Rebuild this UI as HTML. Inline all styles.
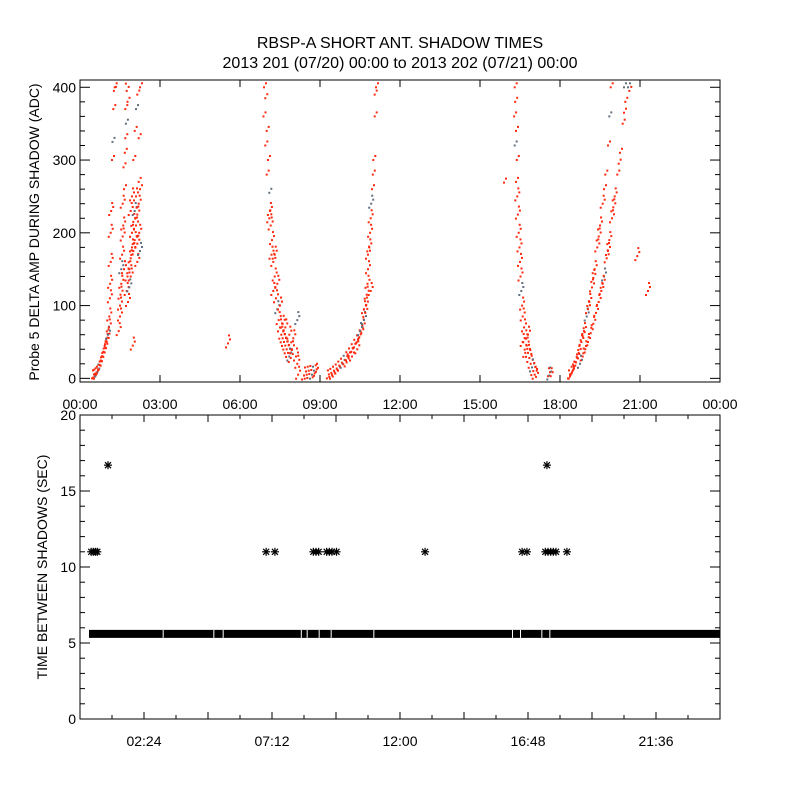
<!DOCTYPE html>
<html><head><meta charset="utf-8"><style>
html,body{margin:0;padding:0;background:#fff;}
svg{display:block;font-family:"Liberation Sans",sans-serif;}
</style></head><body>
<svg id="c" width="800" height="800" viewBox="0 0 800 800">
<rect width="800" height="800" fill="#fff"/>
<text x="400" y="48" text-anchor="middle" font-size="16">RBSP-A SHORT ANT. SHADOW TIMES</text>
<text x="400" y="68" text-anchor="middle" font-size="16">2013 201 (07/20) 00:00 to 2013 202 (07/21) 00:00</text>
<text transform="translate(39,232) rotate(-90)" text-anchor="middle" font-size="14">Probe 5 DELTA AMP DURING SHADOW (ADC)</text>
<text transform="translate(47,567) rotate(-90)" text-anchor="middle" font-size="14">TIME BETWEEN SHADOWS (SEC)</text>
<g id="topPanel"></g>
<g id="botPanel"></g>
</svg>
<script>
// ---- top panel data (hour, ADC) ----
const ampHours = [0.45,0.5,0.55,0.6,0.65,0.7,0.75,0.8,0.85,0.9,0.95,1.0,1.03,1.05,1.08,1.1,1.12,1.13,1.15,1.15,1.17,1.2,1.22,1.25,1.27,1.3,
1.45,1.5,1.5,1.52,1.55,1.55,1.58,1.6,1.62,1.6,1.65,1.63,1.68,1.7,1.72,1.7,1.75,1.72,1.78,1.65,1.75,1.78,
1.8,1.85,1.85,1.9,1.9,1.95,1.95,2.0,2.0,2.05,2.05,2.1,2.1,2.15,2.15,2.2,2.2,2.0,2.05,2.1,2.15,2.25,2.22,1.9,1.95,2.25,2.2,2.15,2.25,1.98,
6.9,6.95,6.88,7.0,6.95,7.05,7.0,7.1,7.12,7.15,7.2,7.18,7.25,7.3,7.25,7.35,7.4,7.45,7.5,7.55,7.6,7.65,7.7,7.75,7.8,7.85,7.9,7.95,8.0,7.85,7.7,8.1,8.15,8.18,8.15,7.4,7.3,7.1,7.5,7.6,
8.4,8.5,8.6,8.7,8.8,8.85,
9.26,9.35,9.45,9.55,9.65,9.75,9.85,9.95,10.05,10.15,10.25,10.35,10.45,10.55,10.6,10.65,10.7,10.72,10.75,10.78,10.8,10.85,10.88,10.9,10.92,10.95,10.98,11.0,11.05,11.1,10.4,10.2,10.0,10.5,10.65,10.8,10.9,11.05,
16.3,16.32,16.28,16.35,16.3,16.38,16.35,16.4,16.42,16.45,16.48,16.5,16.52,16.55,16.58,16.6,16.65,16.7,16.75,16.8,16.85,16.9,16.95,17.0,17.05,17.1,15.9,16.6,16.7,16.8,
17.55,17.6,17.65,
18.3,18.4,18.5,18.6,18.7,18.8,18.9,19.0,19.1,19.2,19.3,19.4,19.5,19.6,19.7,19.8,19.85,19.9,18.45,18.65,18.85,19.05,19.25,19.45,19.65,
18.75,18.85,18.95,19.05,19.15,19.25,19.35,19.45,19.55,19.65,19.75,19.85,19.95,20.05,20.15,20.25,20.35,20.45,20.55,20.6,19.6,19.8,20.0,20.2,20.4,
21.3,20.9,20.4,5.55];
const ampValues = [0,1,3,5,8,12,18,24,30,36,42,50,56,60,70,85,110,130,160,200,230,300,325,370,395,400,
65,85,100,115,130,150,170,195,210,240,260,290,310,330,350,370,395,405,380,150,120,140,
105,125,150,140,165,180,200,175,215,190,230,210,250,225,185,240,270,300,340,370,390,260,200,230,250,400,330,160,175,45,
400,385,360,340,320,300,280,255,230,210,190,170,160,140,120,110,95,80,70,60,55,50,45,40,35,30,28,40,55,60,70,30,20,5,80,130,170,220,100,75,
4,5,6,5,7,9,
0,2,5,8,12,16,20,25,30,36,42,48,55,62,70,80,90,100,115,130,150,180,200,220,240,260,280,300,360,400,40,30,22,65,95,170,120,390,
400,380,360,340,320,300,270,250,225,200,180,160,140,120,100,85,70,55,45,35,28,20,15,10,5,2,269,50,35,60,
3,4,3,
0,5,12,22,35,50,65,85,105,125,150,180,210,240,280,320,360,400,8,28,58,95,138,195,260,
20,30,40,50,62,75,90,105,120,140,165,190,220,250,280,310,350,380,400,395,130,175,235,295,365,
120,168,400,48];
const topXTicks = ["00:00","03:00","06:00","09:00","12:00","15:00","18:00","21:00","00:00"];
const topYTicks = [0,100,200,300,400];
// ---- bottom panel data ----
const bandStart = [0.45];
const bandEnd = [24];
const bandValue = [5.6];
const gapHours = [3.1,5.0,5.35,8.28,8.5,8.95,9.4,11.0,16.2,16.5,17.3,17.6];
const outHours = [0.42,0.5,0.58,0.65,1.05,6.98,7.31,8.75,8.85,8.95,9.25,9.35,9.45,9.62,12.94,16.58,16.76,17.45,17.55,17.65,17.75,17.85,18.26,17.51];
const outValues = [11,11,11,11,16.7,11,11,11,11,11,11,11,11,11,11,11,11,11,11,11,11,11,11,16.7];
const botXTicks = ["02:24","07:12","12:00","16:48","21:36"];
const botYTicks = [0,5,10,15,20];

const NS="http://www.w3.org/2000/svg";
function mk(tag,attrs,parent){const e=document.createElementNS(NS,tag);for(const k in attrs)e.setAttribute(k,attrs[k]);parent.appendChild(e);return e;}
const L=80,R=720;
const xH=h=>L+h*(R-L)/24;
// top axes
const tT=80,tB=382;
const yTop=v=>tB-(v+5)*(tB-tT)/415;
const topG=document.getElementById('topPanel');
const nAmp=Math.min(ampHours.length,ampValues.length);
const spread=[[0,0],[2,-4],[-2,4],[1,-8]];
for(let i=0;i<nAmp;i++){
  const px=xH(ampHours[i]),py=yTop(ampValues[i]);
  const g=mk('g',{fill:(i%9==4)?'#607080':'#ff2a10'},topG);
  
  
  spread.forEach((o,k)=>{
    const yy=py+o[1];
    if(yy<tT+1||yy>tB-2) return;
    if(k>0 && ampValues[i]>250 && k>1) return;
    mk('rect',{x:(px-1+o[0]).toFixed(1),y:(yy-1).toFixed(1),width:2,height:2},g);
  });
}
const tf=mk('rect',{x:L,y:tT,width:R-L,height:tB-tT,fill:'none',stroke:'#000','stroke-width':1},topG);


topXTicks.forEach((lab,i)=>{
  const x=L+i*(R-L)/8;
  mk('line',{x1:x,x2:x,y1:tB,y2:tB-7,stroke:'#000'},topG);
  mk('line',{x1:x,x2:x,y1:tT,y2:tT+7,stroke:'#000'},topG);
  const t=mk('text',{x:x,y:tB+27,'text-anchor':'middle','font-size':14},topG);t.textContent=lab;
  
  
});
for(let v=0;v<=400;v+=20){
  const y=yTop(v),len=(v%100==0)?10:5;
  mk('line',{x1:L,x2:L+len,y1:y,y2:y,stroke:'#000'},topG);
  mk('line',{x1:R,x2:R-len,y1:y,y2:y,stroke:'#000'},topG);
}
topYTicks.forEach(v=>{
  const t=mk('text',{x:L-4,y:yTop(v)+5,'text-anchor':'end','font-size':14},topG);t.textContent=v;
  
  
});
// bottom
const bT=415,bB=719;
const yBot=v=>bB-v*(bB-bT)/20;
const botG=document.getElementById('botPanel');
for(let i=0;i<bandStart.length;i++){
  const r=mk('rect',{x:xH(bandStart[i])-3,y:yBot(bandValue[i])-4,width:xH(bandEnd[i])-xH(bandStart[i])+3,height:8,fill:'#000'},botG);
  
  
}
gapHours.forEach(h=>{
  const r=mk('rect',{x:xH(h),y:yBot(bandValue[0])-4,width:1,height:8,fill:'#fff'},botG);
  
  
});
const nOut=Math.min(outHours.length,outValues.length);
for(let i=0;i<nOut;i++){
  const cx=xH(outHours[i]),cy=yBot(outValues[i]);
  const g=mk('g',{stroke:'#000','stroke-width':1.2},botG);
  
  
  mk('line',{x1:cx-4,x2:cx+4,y1:cy,y2:cy},g);
  mk('line',{x1:cx,x2:cx,y1:cy-4,y2:cy+4},g);
  mk('line',{x1:cx-3,x2:cx+3,y1:cy-3,y2:cy+3},g);
  mk('line',{x1:cx-3,x2:cx+3,y1:cy+3,y2:cy-3},g);
}
const bf=mk('rect',{x:L,y:bT,width:R-L,height:bB-bT,fill:'none',stroke:'#000','stroke-width':1},botG);


for(let k=0;k<=20;k++){
  const x=L+k*(R-L)/20,len=(k%2==0)?7:4;
  mk('line',{x1:x,x2:x,y1:bB,y2:bB-len,stroke:'#000'},botG);
  mk('line',{x1:x,x2:x,y1:bT,y2:bT+len,stroke:'#000'},botG);
}
botXTicks.forEach((lab,i)=>{
  const t=mk('text',{x:L+(2.4+i*4.8)*(R-L)/24,y:bB+27,'text-anchor':'middle','font-size':14},botG);t.textContent=lab;
  
  
});
for(let v=0;v<=20;v++){
  const y=yBot(v),len=(v%5==0)?10:5;
  mk('line',{x1:L,x2:L+len,y1:y,y2:y,stroke:'#000'},botG);
  mk('line',{x1:R,x2:R-len,y1:y,y2:y,stroke:'#000'},botG);
}
botYTicks.forEach(v=>{
  const t=mk('text',{x:L-4,y:yBot(v)+5,'text-anchor':'end','font-size':14},botG);t.textContent=v;
  
  
});
</script>
</body></html>
